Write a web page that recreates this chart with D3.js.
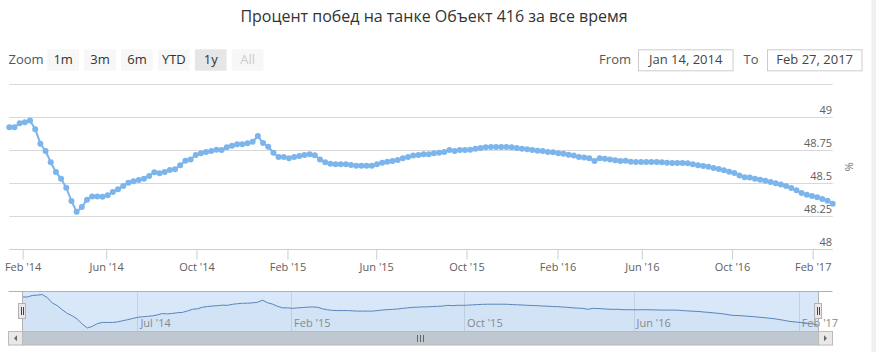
<!DOCTYPE html>
<html>
<head>
<meta charset="utf-8">
<script src="https://cdn.jsdelivr.net/npm/d3@7"></script>
<style>
  body { margin: 0; background: #fff; }
  text { font-family: "Open Sans", "DejaVu Sans", sans-serif; }
</style>
</head>
<body>
<div id="chart"></div>
<script>
// weekly win rate, %
const winRate = [
  48.924, 48.924, 48.955, 48.962, 48.975, 48.91, 48.80, 48.745, 48.66, 48.585,
  48.535, 48.467, 48.366, 48.285, 48.32, 48.376, 48.40, 48.40, 48.398, 48.41,
  48.434, 48.455, 48.48, 48.505, 48.515, 48.525, 48.535, 48.555, 48.583, 48.576,
  48.585, 48.60, 48.606, 48.636, 48.67, 48.68, 48.714, 48.727, 48.737, 48.745,
  48.755, 48.752, 48.773, 48.785, 48.795, 48.795, 48.803, 48.815, 48.858, 48.805,
  48.777, 48.732, 48.70, 48.70, 48.69, 48.70, 48.707, 48.714, 48.72, 48.712,
  48.68, 48.66, 48.648, 48.644, 48.644, 48.644, 48.639, 48.633, 48.633, 48.633,
  48.633, 48.644, 48.656, 48.664, 48.669, 48.676, 48.69, 48.70, 48.71, 48.714,
  48.72, 48.72, 48.727, 48.732, 48.737, 48.752, 48.745, 48.752, 48.752, 48.755,
  48.762, 48.767, 48.773, 48.775, 48.775, 48.775, 48.775, 48.773, 48.767, 48.762,
  48.758, 48.752, 48.747, 48.745, 48.737, 48.735, 48.727, 48.724, 48.717, 48.71,
  48.70, 48.695, 48.69, 48.669, 48.69, 48.686, 48.68, 48.674, 48.669, 48.671,
  48.664, 48.661, 48.661, 48.661, 48.661, 48.661, 48.659, 48.656, 48.654, 48.654,
  48.654, 48.652, 48.644, 48.636, 48.631, 48.626, 48.616, 48.608, 48.598, 48.588,
  48.578, 48.56, 48.545, 48.543, 48.535, 48.527, 48.52, 48.51, 48.50, 48.49,
  48.48, 48.464, 48.447, 48.426, 48.414, 48.404, 48.394, 48.381, 48.368, 48.345
];
const firstDate = "2014-01-14";
const skippedWeeks = [10, 115, 148, 154];

const yTicks = [48, 48.25, 48.5, 48.75, 49, 49.25];
const mainTickDates = ["2014-02-01", "2014-06-01", "2014-10-01", "2015-02-01", "2015-06-01",
  "2015-10-01", "2016-02-01", "2016-06-01", "2016-10-01", "2017-02-01"];
const navTickDates = ["2014-07-01", "2015-02-01", "2015-10-01", "2016-06-01", "2017-02-01"];

const titleText = "Процент побед на танке Объект 416 за все время";
const zoomButtons = ["1m", "3m", "6m", "YTD", "1y", "All"];
const selectedButton = "1y";
const disabledButton = "All";
const fromText = "Jan 14, 2014";
const toText = "Feb 27, 2017";

const parse = d3.timeParse("%Y-%m-%d");
const fmt = d3.timeFormat("%b '%y");

const dates = [];
for (let w = 0; dates.length < winRate.length; w++) {
  if (!skippedWeeks.includes(w)) dates.push(d3.timeDay.offset(parse(firstDate), 7 * w));
}
const data = winRate.map((v, i) => ({ date: dates[i], value: v, i: i }));
const N = data.length;

// ordinal axis: points are evenly spaced, dates map to fractional index
const dateToIndex = d3.scaleLinear().domain(dates.map(d => +d)).range(d3.range(N));

const W = 876, H = 352;
const plot = { left: 9.3, right: 832.7, top: 84.3, bottom: 249.3 };
const nav = { left: 22.3, right: 818, top: 291.3, bottom: 331 };

const svg = d3.select("#chart").append("svg")
  .attr("width", W).attr("height", H);

svg.append("rect").attr("width", W).attr("height", H).attr("fill", "#fff");
svg.append("rect").attr("x", 871.5).attr("y", 0).attr("width", 4.5).attr("height", H).attr("fill", "#f0f0f0");

// title
svg.append("text")
  .attr("x", 434).attr("y", 22)
  .attr("text-anchor", "middle")
  .attr("font-size", 16).attr("fill", "#333")
  .text(titleText);

// range selector
svg.append("text").attr("x", 8.5).attr("y", 64)
  .attr("font-size", 13).attr("fill", "#555").text("Zoom");

const btn = svg.append("g").selectAll("g").data(zoomButtons).enter().append("g")
  .attr("transform", (d, k) => "translate(" + (47.3 + 36.9 * k) + ",49.3)");
btn.append("rect")
  .attr("width", 31.7).attr("height", 21.4)
  .attr("fill", d => d === selectedButton ? "#e6e6e6" : "#f7f7f7");
btn.append("text")
  .attr("x", 15.85).attr("y", 14.6)
  .attr("text-anchor", "middle").attr("font-size", 13)
  .attr("fill", d => d === disabledButton ? "#ccc" : "#333")
  .text(d => d);

// from / to inputs
function inputBox(label, labelX, boxX, value) {
  svg.append("text").attr("x", labelX).attr("y", 64)
    .attr("text-anchor", "end").attr("font-size", 13).attr("fill", "#555").text(label);
  svg.append("rect").attr("x", boxX).attr("y", 49.8).attr("width", 94.5).attr("height", 21)
    .attr("fill", "#fff").attr("stroke", "#ccc");
  svg.append("text").attr("x", boxX + 47.2).attr("y", 64)
    .attr("text-anchor", "middle").attr("font-size", 13).attr("fill", "#444").text(value);
}
inputBox("From", 631, 638.5, fromText);
inputBox("To", 758.5, 767.5, toText);

// main chart scales
const x = d3.scaleLinear().domain([0, N - 1]).range([plot.left, plot.right]);
const y = d3.scaleLinear().domain([48, 49.25]).range([plot.bottom, plot.top]);

// y grid
svg.append("g").selectAll("line").data(yTicks.slice(1)).enter().append("line")
  .attr("x1", plot.left).attr("x2", plot.right)
  .attr("y1", d => Math.round(y(d)) + 0.5).attr("y2", d => Math.round(y(d)) + 0.5)
  .attr("stroke", "#d8d8d8");

// y labels (last one hidden)
svg.append("g").selectAll("text").data(yTicks.slice(0, -1)).enter().append("text")
  .attr("x", 832).attr("y", d => y(d) - 3)
  .attr("text-anchor", "end").attr("font-size", 11).attr("fill", "#606060")
  .text(d => d);

svg.append("text")
  .attr("transform", "translate(845," + ((plot.top + plot.bottom) / 2) + ") rotate(90)")
  .attr("text-anchor", "middle").attr("font-size", 11).attr("fill", "#707070")
  .text("%");

// x axis
const xAxis = d3.axisBottom(x)
  .tickValues(mainTickDates.map(d => dateToIndex(+parse(d))))
  .tickFormat((d, k) => fmt(parse(mainTickDates[k])))
  .tickSize(10).tickPadding(4);
const gx = svg.append("g")
  .attr("transform", "translate(0," + (Math.round(plot.bottom) + 0.5) + ")")
  .call(xAxis);
gx.select(".domain").attr("stroke", "#C0D0E0").attr("d", "M" + plot.left + ",0H" + plot.right);
gx.selectAll(".tick line").attr("stroke", "#C0D0E0");
gx.selectAll(".tick text").attr("fill", "#606060").attr("font-size", 11)
  .attr("font-family", "'Open Sans', sans-serif");

// series
const line = d3.line().x(d => x(d.i)).y(d => y(d.value));
svg.append("path").datum(data)
  .attr("d", line).attr("fill", "none")
  .attr("stroke", "#7cb5ec").attr("stroke-width", 2).attr("stroke-linejoin", "round");
svg.append("g").selectAll("circle").data(data).enter().append("circle")
  .attr("cx", d => x(d.i)).attr("cy", d => y(d.value)).attr("r", 3)
  .attr("fill", "#7cb5ec");

// navigator
const xn = d3.scaleLinear().domain([0, N - 1]).range([nav.left, nav.right]);
const yn = d3.scaleLinear().domain(d3.extent(winRate)).range([328, 294.5]);

const ng = svg.append("g");
ng.selectAll("line.grid").data(navTickDates).enter().append("line")
  .attr("x1", d => Math.round(xn(dateToIndex(+parse(d)))) + 0.5)
  .attr("x2", d => Math.round(xn(dateToIndex(+parse(d)))) + 0.5)
  .attr("y1", nav.top).attr("y2", nav.bottom)
  .attr("stroke", "#e0e0e0");
ng.append("path").datum(data)
  .attr("d", d3.area().x(d => xn(d.i)).y0(nav.bottom).y1(d => yn(d.value)))
  .attr("fill", "#4572A7").attr("fill-opacity", 0.05);
ng.append("path").datum(data)
  .attr("d", d3.line().x(d => xn(d.i)).y(d => yn(d.value)))
  .attr("fill", "none").attr("stroke", "#4572A7").attr("stroke-width", 1);
// mask over the selected range
ng.append("rect")
  .attr("x", nav.left).attr("y", nav.top)
  .attr("width", nav.right - nav.left).attr("height", nav.bottom - nav.top)
  .attr("fill", "rgba(128,179,236,0.3)");
ng.selectAll("text").data(navTickDates).enter().append("text")
  .attr("x", d => xn(dateToIndex(+parse(d))) + 3).attr("y", nav.bottom - 4)
  .attr("font-size", 11).attr("fill", "#888")
  .text(d => fmt(parse(d)));

// outline
ng.append("path")
  .attr("d", "M8.5," + (Math.round(nav.top) + 0.5) + "H832.5" +
    "M" + (Math.round(nav.left) + 0.5) + "," + nav.top + "V" + nav.bottom +
    "M" + (Math.round(nav.right) + 0.5) + "," + nav.top + "V" + nav.bottom)
  .attr("fill", "none").attr("stroke", "#b2b1b6");

// handles
[nav.left, nav.right].forEach(hx => {
  const hxr = Math.round(hx);
  ng.append("rect").attr("x", hxr - 3.5).attr("y", 303.5).attr("width", 7).attr("height", 15)
    .attr("fill", "#ebe7e8").attr("stroke", "#b2b1b6");
  ng.append("path").attr("d", "M" + (hxr - 0.5) + ",307V315M" + (hxr + 1.5) + ",307V315")
    .attr("stroke", "#444").attr("stroke-width", 1);
});

// scrollbar
const sb = { top: 331.5, h: 13.5 };
ng.append("rect").attr("x", 8.5).attr("y", sb.top).attr("width", 824).attr("height", sb.h)
  .attr("fill", "#eee").attr("stroke", "#eee");
ng.append("rect").attr("x", Math.round(nav.left) + 0.5).attr("y", sb.top)
  .attr("width", Math.round(nav.right) - Math.round(nav.left)).attr("height", sb.h)
  .attr("fill", "#bfc8d1").attr("stroke", "#bbb");
[[8.5, -1], [Math.round(nav.right) + 0.5, 1]].forEach(([bx, dir]) => {
  ng.append("rect").attr("x", bx).attr("y", sb.top).attr("width", 14).attr("height", sb.h)
    .attr("fill", "#ebe7e8").attr("stroke", "#bbb");
  const cx = bx + 7, cy = sb.top + sb.h / 2;
  ng.append("path")
    .attr("d", "M" + (cx - 1.5 * dir) + "," + (cy - 3) + "L" + (cx + 1.5 * dir) + "," + cy + "L" + (cx - 1.5 * dir) + "," + (cy + 3) + "Z")
    .attr("fill", "#666");
});
const rc = Math.round((nav.left + nav.right) / 2);
ng.append("path")
  .attr("d", "M" + (rc - 2.5) + ",335V342M" + (rc + 0.5) + ",335V342M" + (rc + 3.5) + ",335V342")
  .attr("stroke", "#666");
</script>
</body>
</html>
